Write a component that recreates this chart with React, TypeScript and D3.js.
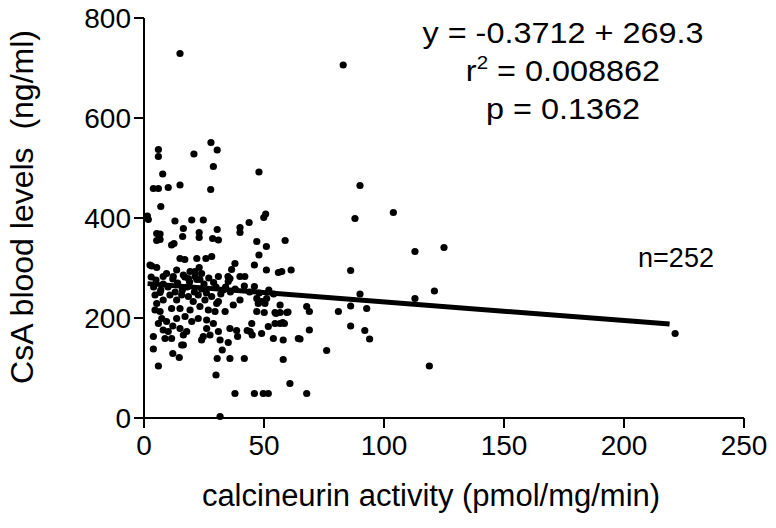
import React from "react";
import * as d3 from "d3";

// ---- Data (calcineurin activity, CsA blood level) ----
const sparsePoints: [number, number][] = [
  [15, 729], [83, 706], [221.3, 169], [125, 341], [112.9, 333], [112.9, 239], [121, 254], [118.9, 104],
  [103.9, 411], [90, 465], [87.9, 399], [86.1, 295], [90, 248], [86.1, 224], [92.8, 219], [81, 213],
  [86.1, 184], [92, 175], [94, 158], [76.1, 135], [67.8, 223], [68.9, 213], [68.9, 176], [65, 158],
  [67.8, 49], [60.8, 69], [31.7, 3],
];
const upperPoints: [number, number][] = [
  [6, 537], [6, 523], [20.8, 528], [27.9, 551], [30.5, 536], [7.8, 488], [28.9, 503], [47.9, 492],
  [3.9, 459], [6, 459], [10.1, 461], [15, 466], [27.8, 457], [7, 423], [1.4, 404], [1.8, 397],
  [12.9, 394], [19.9, 396], [24.7, 396], [50.7, 408], [49.9, 401], [43.8, 391],
];
const midPoints: [number, number][] = [
  [30.5, 377], [40, 381], [40, 371], [5.3, 369], [6.7, 368], [5.3, 355], [6.7, 357], [16.4, 379],
  [16.1, 363], [23, 371], [23, 361], [11.5, 346], [12.5, 349], [28.6, 359], [31, 356], [47, 353],
  [51, 343], [58.8, 355], [15, 319], [17, 317], [22, 319], [25.8, 319], [28.2, 323], [47.9, 326],
  [3.2, 304], [5.3, 301], [2.5, 306], [37.9, 309], [36.5, 297], [46, 306], [51, 296], [9.4, 289],
  [13.6, 296], [19.2, 293], [23, 301], [21.2, 293], [24, 289], [56, 291], [57.4, 293], [61.3, 296],
  [31, 283], [35, 283], [40, 283], [42, 283], [35.1, 273], [35.8, 279], [41.8, 264], [46, 263],
];
const nearLinePoints: [number, number][] = [
  [3, 282], [5, 276], [8, 268], [12, 278], [14, 270], [17, 282], [19, 272], [22, 277], [25, 268],
  [27, 280], [29, 271], [10, 262], [18, 262], [24, 258], [30, 262], [33, 256], [4, 262], [7, 256],
  [13, 252], [16, 256], [21, 252], [26, 250], [32, 248], [36, 252], [8, 283], [12.2, 283],
  [16.4, 286], [18.5, 279], [21.3, 283], [23.3, 277], [34, 262], [38, 258], [44, 252], [48, 250],
  [52, 256], [54, 248],
];
const lowerLeftPoints: [number, number][] = [
  [4.6, 246], [6.7, 251], [8, 236], [5.3, 229], [4.6, 216], [6.7, 213], [10.8, 246], [13.6, 236],
  [15.7, 246], [18.5, 243], [20.5, 233], [22.6, 246], [25.4, 236], [28.2, 243], [31, 233], [11.5, 219],
  [15, 219], [19.2, 216], [23.3, 223], [26.8, 216], [29.6, 213], [7.4, 199], [9.4, 193], [13.6, 199],
  [17.1, 203], [19.9, 193], [22.6, 199], [26.1, 196], [28.9, 189], [8, 176], [10.1, 173], [15, 179],
  [17.8, 173], [26.1, 179], [31, 173], [8.75, 159], [16.4, 166], [27.5, 166], [16.4, 146], [11.5, 159],
  [6, 189], [3.9, 163], [3.9, 138], [6, 104], [12, 129], [14.7, 121], [15.7, 146], [24, 156],
  [24.7, 163], [30.5, 119], [30, 86], [12, 184],
];
const rightMidPoints: [number, number][] = [
  [30.3, 229], [33.8, 213], [37.2, 226], [40, 236], [47, 239], [47.6, 229], [50.4, 229], [51.1, 239],
  [47, 213], [50.1, 211], [56.7, 226], [54.6, 211], [56.7, 211], [59.5, 211], [54.6, 189], [56.7, 189],
  [58.5, 189], [51.8, 183], [49, 169], [44.9, 189], [44.2, 173], [45.1, 166], [35.8, 179], [38.6, 175],
  [39, 163], [31.7, 156], [35.1, 151], [32.6, 136], [53.9, 159], [58, 156], [64.3, 159], [35.8, 119],
  [41.8, 119], [58, 117], [37.9, 49], [46, 49], [49.7, 49], [51.8, 49], [49, 233], [60, 212],
  [43, 175], [57.8, 191], [55, 209],
];

const xTicks = [0, 50, 100, 150, 200, 250];
const yTicks = [0, 200, 400, 600, 800];
const fitSlope = -0.3712;
const fitIntercept = 269.3;
const fitRange = [1.5, 219];
const equationLines = ["y = -0.3712 + 269.3", "0.008862", "p = 0.1362"];
const sampleLabel = "n=252";
const xTitle = "calcineurin activity (pmol/mg/min)";
const yTitle = "CsA blood levels  (ng/ml)";

const allPoints = [
  ...sparsePoints, ...upperPoints, ...midPoints, ...nearLinePoints, ...lowerLeftPoints, ...rightMidPoints,
];

const FONT = "'Liberation Sans', Arial, Helvetica, sans-serif";

export default function App() {
  const W = 776, H = 528;
  const x = d3.scaleLinear().domain([0, 250]).range([144, 744]);
  const y = d3.scaleLinear().domain([0, 800]).range([418, 18]);
  const fitLine = d3.line<number>().x((v) => x(v)).y((v) => y(fitIntercept + fitSlope * v));
  const eqX = 563;
  const eqScale = "scale(1.08,1)";

  return (
    <svg width={W} height={H} style={{ position: "absolute", left: 0, top: 0, background: "#fff" }}
      fontFamily={FONT}>
      <rect x={0} y={0} width={W} height={H} fill="#fff" />
      {/* axes */}
      <line x1={x(0)} x2={x(0)} y1={y(800)} y2={y(0)} stroke="#000" strokeWidth={2} />
      <line x1={x(0)} x2={x(250)} y1={y(0)} y2={y(0)} stroke="#000" strokeWidth={2} />
      {yTicks.map((t) => (
        <g key={"y" + t}>
          <line x1={x(0) - 10} x2={x(0)} y1={y(t)} y2={y(t)} stroke="#000" strokeWidth={2} />
          <text x={x(0) - 13} y={y(t)} dy="0.36em" textAnchor="end" fontSize={28}>{t}</text>
        </g>
      ))}
      {xTicks.map((t) => (
        <g key={"x" + t}>
          <line x1={x(t)} x2={x(t)} y1={y(0)} y2={y(0) + 10} stroke="#000" strokeWidth={2} />
          <text x={x(t)} y={y(0) + 37} textAnchor="middle" fontSize={28}>{t}</text>
        </g>
      ))}
      {/* points */}
      {allPoints.map((p, i) => (
        <circle key={i} cx={x(p[0])} cy={y(p[1])} r={3.6} fill="#000" />
      ))}
      {/* regression line */}
      <path d={fitLine(fitRange) || ""} stroke="#000" strokeWidth={5} fill="none" />
      {/* annotations */}
      <g transform={`translate(${eqX},43) ${eqScale}`}>
        <text x={0} y={0} textAnchor="middle" fontSize={30}>{equationLines[0]}</text>
      </g>
      <g transform={`translate(${eqX},81) ${eqScale}`}>
        <text x={0} y={0} textAnchor="middle" fontSize={30}>
          r<tspan fontSize={19} dy={-12}>2</tspan><tspan dy={12}> = {equationLines[1]}</tspan>
        </text>
      </g>
      <g transform={`translate(${eqX},119) ${eqScale}`}>
        <text x={0} y={0} textAnchor="middle" fontSize={30}>{equationLines[2]}</text>
      </g>
      <text x={676} y={267} textAnchor="middle" fontSize={27}>{sampleLabel}</text>
      {/* titles */}
      <text x={431} y={506} textAnchor="middle" fontSize={31}>{xTitle}</text>
      <text transform={`translate(33,${207}) rotate(-90)`} textAnchor="middle" fontSize={32}
        style={{ whiteSpace: "pre" }}>{yTitle}</text>
    </svg>
  );
}
